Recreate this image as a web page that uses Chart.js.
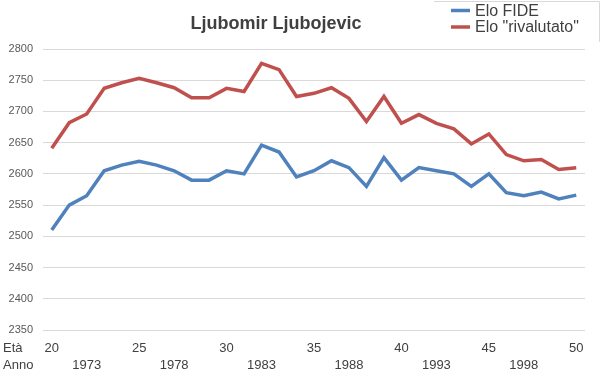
<!DOCTYPE html>
<html>
<head>
<meta charset="utf-8">
<script src="https://cdn.jsdelivr.net/npm/chart.js@4.4.1/dist/chart.umd.min.js"></script>
<style>
    html, body { margin: 0; padding: 0; background: #fff; }
    #wrap { width: 600px; height: 380px; position: relative; }
</style>
</head>
<body>
<div id="wrap"><canvas id="eloChart" width="600" height="380"></canvas></div>
<script>
// Ljubomir Ljubojevic - Elo per età

const ages = [20, 21, 22, 23, 24, 25, 26, 27, 28, 29, 30, 31, 32, 33, 34, 35,
    36, 37, 38, 39, 40, 41, 42, 43, 44, 45, 46, 47, 48, 49, 50];
const years = [1971, 1972, 1973, 1974, 1975, 1976, 1977, 1978, 1979, 1980, 1981,
    1982, 1983, 1984, 1985, 1986, 1987, 1988, 1989, 1990, 1991, 1992, 1993,
    1994, 1995, 1996, 1997, 1998, 1999, 2000, 2001];
const ageTicks = [20, 25, 30, 35, 40, 45, 50];
const yearTicks = [1973, 1978, 1983, 1988, 1993, 1998];

const eloFide = [2510, 2550, 2565, 2605, 2614, 2620, 2614, 2605, 2590, 2590, 2605,
    2600, 2646, 2635, 2595, 2605, 2621, 2610, 2580, 2626, 2590, 2610, 2605,
    2600, 2580, 2600, 2570, 2565, 2571, 2560, 2566];
const eloRivalutato = [2641, 2682, 2696, 2737, 2746, 2753, 2746, 2738, 2722, 2722, 2737,
    2732, 2777, 2767, 2724, 2729, 2738, 2721, 2684, 2724, 2681, 2695, 2681,
    2672, 2648, 2664, 2631, 2621, 2623, 2607, 2610];

const colors = {
    blue: '#4F81BD',
    red: '#C0504D',
    grid: '#D9D9D9',
    text: '#404040',
    tick: '#595959'
};

const fontFamily = '"Liberation Sans", Arial, sans-serif';

// title, legend box and the "Età" / "Anno" row captions
const decorations = {
    id: 'decorations',
    afterDraw(chart) {
        const ctx = chart.ctx;
        ctx.save();

        ctx.fillStyle = colors.text;
        ctx.font = 'bold 18px ' + fontFamily;
        ctx.textAlign = 'center';
        ctx.textBaseline = 'alphabetic';
        ctx.fillText('Ljubomir Ljubojevic', 276, 29);

        // legend frame (only top and right edges show)
        ctx.strokeStyle = colors.grid;
        ctx.lineWidth = 1;
        ctx.beginPath();
        ctx.moveTo(434, 1.5);
        ctx.lineTo(599.5, 1.5);
        ctx.lineTo(599.5, 42);
        ctx.stroke();

        ctx.font = '16px ' + fontFamily;
        ctx.textAlign = 'left';
        ctx.textBaseline = 'middle';
        chart.data.datasets.forEach(function(ds, i) {
            const y = 10.5 + i * 16.5;
            ctx.strokeStyle = ds.borderColor;
            ctx.lineWidth = 3.5;
            ctx.beginPath();
            ctx.moveTo(451, y);
            ctx.lineTo(470, y);
            ctx.stroke();
            ctx.fillStyle = colors.text;
            ctx.fillText(ds.label, 475, y + 1);
        });

        ctx.font = '13px ' + fontFamily;
        ctx.fillText('Età', 3, 348);
        ctx.fillText('Anno', 3, 365);

        ctx.restore();
    }
};

new Chart(document.getElementById('eloChart'), {
    type: 'line',
    data: {
        labels: ages,
        datasets: [{
            label: 'Elo FIDE',
            data: eloFide,
            borderColor: colors.blue,
            backgroundColor: colors.blue,
            borderWidth: 3.5,
            pointRadius: 0,
            tension: 0
        }, {
            label: 'Elo "rivalutato"',
            data: eloRivalutato,
            borderColor: colors.red,
            backgroundColor: colors.red,
            borderWidth: 3.5,
            pointRadius: 0,
            tension: 0
        }]
    },
    options: {
        responsive: false,
        animation: false,
        layout: {
            padding: { top: 49, right: 15, bottom: 0, left: 8 }
        },
        scales: {
            x: {
                offset: true,
                grid: { display: false },
                border: { display: false },
                afterFit: function(scale) {
                    scale.height = 50;
                },
                ticks: {
                    autoSkip: false,
                    maxRotation: 0,
                    minRotation: 0,
                    padding: 2,
                    color: colors.text,
                    font: { family: fontFamily, size: 13, lineHeight: 1.3 },
                    callback: function(value, index) {
                        const age = ages[index];
                        const year = years[index];
                        return [
                            ageTicks.includes(age) ? String(age) : '',
                            yearTicks.includes(year) ? String(year) : ''
                        ];
                    }
                }
            },
            y: {
                min: 2350,
                max: 2800,
                grid: {
                    color: colors.grid,
                    lineWidth: 1,
                    drawTicks: false
                },
                border: { display: false },
                afterFit: function(scale) {
                    scale.width = 35;
                },
                ticks: {
                    stepSize: 50,
                    padding: 10,
                    color: colors.tick,
                    font: { family: fontFamily, size: 11 },
                    callback: function(value) {
                        return String(value);
                    }
                }
            }
        },
        plugins: {
            legend: { display: false },
            title: { display: false },
            tooltip: { enabled: false }
        }
    },
    plugins: [decorations]
});
</script>
</body>
</html>
